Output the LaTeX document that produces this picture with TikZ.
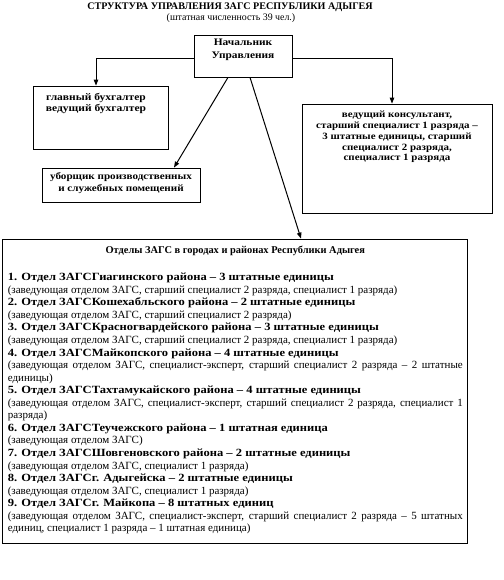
\documentclass[tikz,border=0pt]{standalone}
\usepackage{fontspec}
\setmainfont[BoldFeatures={FakeStretch=1.14}]{Liberation Serif}
\newfontfamily\titlefont{Liberation Serif}
\usetikzlibrary{arrows.meta,calc}
\newcommand{\mybox}[4]{\parbox[c][#2][t]{#1}{\centering\vspace*{#3}#4\par}}
\hyphenpenalty=10000
\exhyphenpenalty=10000
\begin{document}
\begin{tikzpicture}[x=1pt,y=-1pt,
  box/.style={draw, line width=0.8pt, inner sep=0pt},
  lbl/.style={font=\bfseries\fontsize{10}{10.8}\selectfont},
  conn/.style={line width=1pt, -{Triangle[length=6pt,width=4.5pt]}}]
\useasboundingbox (0,0) rectangle (503,580);
% title
\node[font=\titlefont\bfseries\fontsize{10.1}{11}\selectfont, inner sep=0pt] (title) at (230,7) {СТРУКТУРА УПРАВЛЕНИЯ ЗАГС РЕСПУБЛИКИ АДЫГЕЯ};
\node[font=\titlefont\fontsize{9.9}{11}\selectfont, inner sep=0pt] (subtitle) at (231,18.5) {(штатная численность 39 чел.)};
% boxes
\node[box, lbl] (head) at (243,56) {\mybox{98pt}{42pt}{4pt}{\fontsize{10}{13}\selectfont Начальник\\Управления}};
\node[box, lbl] (acct) at (100.5,117.5) {\mybox{135pt}{63pt}{7.5pt}{\rightskip=9pt plus 1fil\fontsize{10.1}{10.8}\selectfont главный бухгалтер\\ведущий бухгалтер}};
\node[box, lbl] (cons) at (397,158.5) {\mybox{190pt}{109pt}{7pt}{\fontsize{9.6}{10.8}\selectfont ведущий консультант,\\старший специалист 1 разряда –\\3 штатные единицы, старший\\специалист 2 разряда,\\специалист 1 разряда}};
\node[box, lbl] (clean) at (121,185) {\mybox{158pt}{34pt}{5pt}{\fontsize{9.75}{11.7}\selectfont уборщик производственных\\и служебных помещений}};
\node[box, minimum width=465pt, minimum height=304pt] (depts) at (234.5,391) {};
\node[anchor=north west, inner sep=0pt, text width=455pt, align=justify,
      font=\fontsize{11}{12.55}\selectfont] (deptstext) at ($(depts.north west)+(6,7.5)$) {%
{\centering\titlefont\bfseries\fontsize{10.4}{12.55}\selectfont Отделы ЗАГС в городах и районах Республики Адыгея\par}
\vspace{14.5pt}
\textbf{1. Отдел ЗАГСГиагинского района – 3 штатные единицы}\par
(заведующая отделом ЗАГС, старший специалист 2 разряда, специалист 1 разряда)\par
\textbf{2. Отдел ЗАГСКошехабльского района – 2 штатные единицы}\par
(заведующая отделом ЗАГС, старший специалист 2 разряда)\par
\textbf{3. Отдел ЗАГСКрасногвардейского района – 3 штатные единицы}\par
(заведующая отделом ЗАГС, старший специалист 2 разряда, специалист 1 разряда)\par
\textbf{4. Отдел ЗАГСМайкопского района – 4 штатные единицы}\par
(заведующая отделом ЗАГС, специалист-эксперт, старший специалист 2 разряда – 2 штатные\linebreak единицы)\par
\textbf{5. Отдел ЗАГСТахтамукайского района – 4 штатные единицы}\par
(заведующая отделом ЗАГС, специалист-эксперт, старший специалист 2 разряда, специалист 1\linebreak разряда)\par
\textbf{6. Отдел ЗАГСТеучежского района – 1 штатная единица}\par
(заведующая отделом ЗАГС)\par
\textbf{7. Отдел ЗАГСШовгеновского района – 2 штатные единицы}\par
(заведующая отделом ЗАГС, специалист 1 разряда)\par
\textbf{8. Отдел ЗАГСг. Адыгейска – 2 штатные единицы}\par
(заведующая отделом ЗАГС, специалист 1 разряда)\par
\textbf{9. Отдел ЗАГСг. Майкопа – 8 штатных единиц}\par
(заведующая отделом ЗАГС, специалист-эксперт, старший специалист 2 разряда – 5 штатных\linebreak единиц, специалист 1 разряда – 1 штатная единица)};
% connectors
\draw[conn] ($(head.west)+(0,3)$) -| ($(acct.north)+(-4.5,0)$);
\draw[conn] ($(head.east)+(0,3)$) -| ($(cons.north)+(-5,0)$);
\draw[conn] ($(head.south)+(-15,0)$) -- ($(clean.north)+(53,0)$);
\draw[conn] ($(head.south)+(7,0)$) -- ($(depts.north)+(66.5,0)$);
\end{tikzpicture}
\end{document}
